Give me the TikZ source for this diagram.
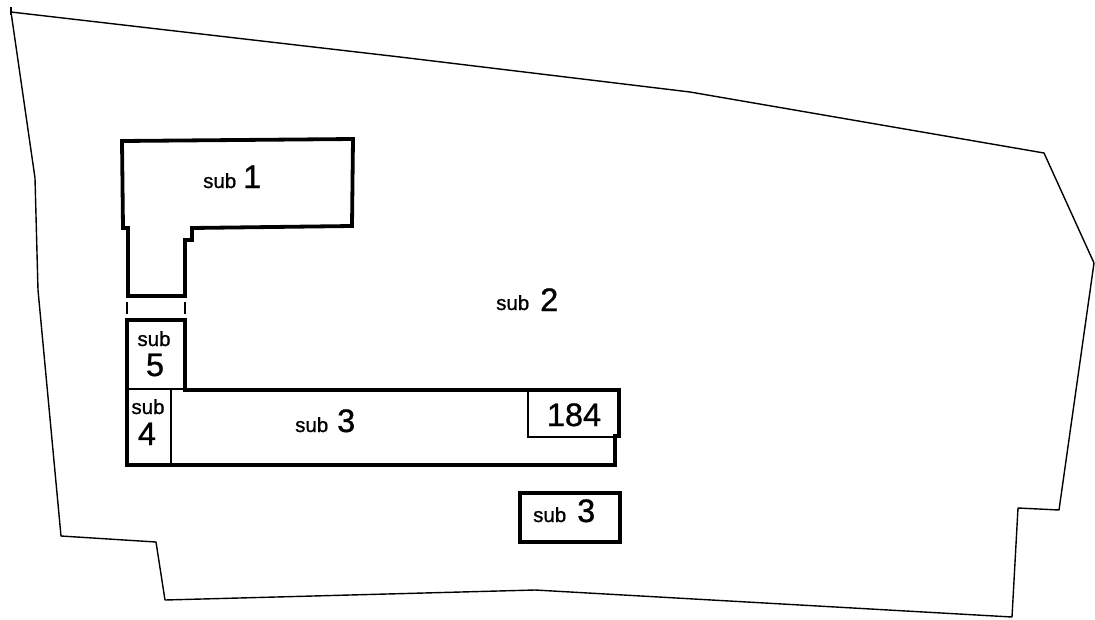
\documentclass[tikz,border=0pt]{standalone}
\usepackage{fontspec}
\setmainfont[RawFeature={embolden=0.9}]{Liberation Sans}
\tikzset{thick wall/.style={line width=3.8pt,line join=miter},
thin wall/.style={line width=1.1pt},
site line/.style={line width=1.4pt,line join=round},
subtext/.style={font=\fontsize{20.5}{20}\selectfont,inner sep=0pt},
subnum/.style={font=\fontsize{32.5}{31}\selectfont,inner sep=0pt}}
\begin{document}
\begin{tikzpicture}[x=1pt,y=-1pt]
\useasboundingbox (0,0) rectangle (1095,619);
% site outline
\draw[site line] (11,12) -- (400,57) -- (690,92) -- (1044,153) -- (1094,263) -- (1059,510) -- (1018,508) -- (1012,617) -- (535,590) -- (165,600) -- (156,542) -- (61,536) -- (38,290) -- (35,178) -- cycle;
\draw[site line] (11,7) -- (11,15);
% buildings
\draw[thick wall] (122,141) -- (353,139) -- (352,226) -- (192,228) -- (192,240) -- (185,240) -- (185,296) -- (128,296) -- (128,228) -- (123,228) -- cycle;
\draw[thick wall] (127,320) -- (185,320) -- (185,390) -- (619,390) -- (619,436) -- (615,436) -- (615,465) -- (127,465) -- cycle;
\draw[thick wall] (520,493) -- (620,493) -- (620,542) -- (520,542) -- cycle;
\draw[thin wall] (127,389) -- (185,389);
\draw[thin wall] (171,389) -- (171,465);
\draw[thin wall] (528,390) -- (528,437) -- (618,437);
\draw[thin wall] (127,302) -- (127,314);
\draw[thin wall] (185,302) -- (185,314);
% labels
\node[subtext,anchor=base west] (subone) at (203,188) {sub};
\node[subnum,anchor=base west] (numone) at (243,188) {1};
\node[subtext,anchor=base west] (subtwo) at (496,310) {sub};
\node[subnum,anchor=base west] (numtwo) at (540,311) {2};
\node[subtext,anchor=base] (subfive) at (154,346) {sub};
\node[subnum,anchor=base] (numfive) at (155,376) {5};
\node[subtext,anchor=base] (subfour) at (148,414) {sub};
\node[subnum,anchor=base] (numfour) at (147,445) {4};
\node[subtext,anchor=base west] (subthree) at (295,432) {sub};
\node[subnum,anchor=base west] (numthree) at (337,432) {3};
\node[subnum,anchor=base] (numroom) at (574,426) {184};
\node[subtext,anchor=base west] (subannex) at (533,522) {sub};
\node[subnum,anchor=base west] (numannex) at (577,522) {3};
\end{tikzpicture}
\end{document}
